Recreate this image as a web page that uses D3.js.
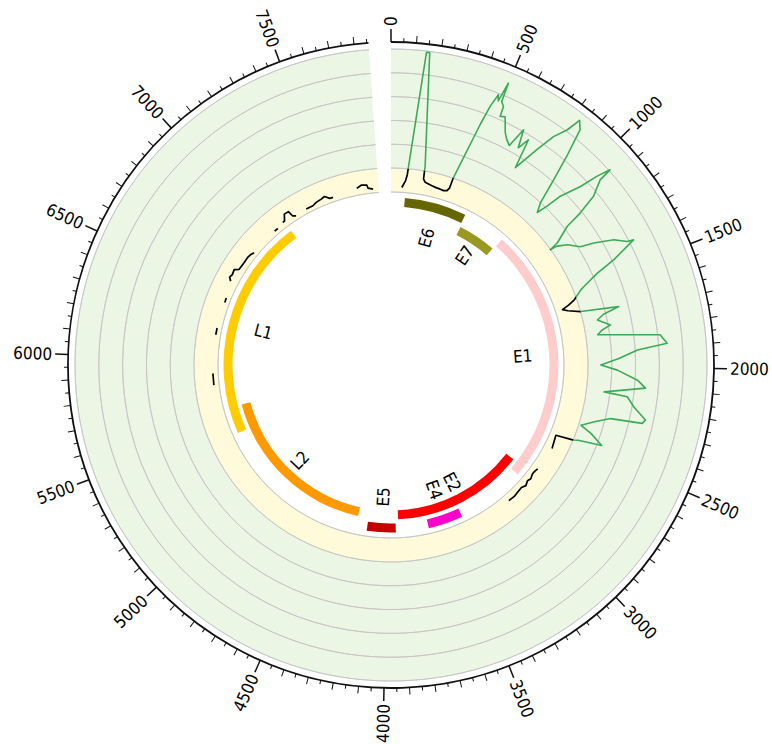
<!DOCTYPE html>
<html><head><meta charset="utf-8">
<script src="https://cdn.jsdelivr.net/npm/d3@7"></script>
<style>body{margin:0;background:#fff;} svg{display:block;}</style>
</head><body>
<svg id="chart" width="772" height="744"></svg>
<script>
// ---------------- data ----------------
const genomeLength = 7857;
const tickValues = [0,500,1000,1500,2000,2500,3000,3500,4000,4500,5000,5500,6000,6500,7000,7500];
const tickLabels = ["0","500","1000","1500","2000","2500","3000","3500","4000","4500","5000","5500","6000","6500","7000","7500"];

const geneNames  = ["E6","E7","E1","E2","E4","E5","L2","L1"];
const geneStart  = [105, 590, 914, 2817, 3418, 3936, 4244, 5430];
const geneEnd    = [581, 907, 2887, 3914, 3684, 4157, 5632, 7136];
const geneColors = ["#666600","#999922","#ffcccc","#ff0000","#ff00cc","#c40000","#ff9900","#ffcc00"];
const geneTrack  = [0,1,0,1,0,0,1,0];

// coverage line (position, level); null = gap
const covPos = [
 77,100,108,111,143,156,215,219,226,234,255,284,310,345,370,393,404,406,409,449,463,478,488,499,503,519,523,545,578,600,625,649,670,693,711,753,782,813,831,839,856,885,911,941,967,982,995,1031,1048,1066,1070,1108,1131,1143,1185,1194,1200,1230,1280,1302,1339,1377,1384,1428,1457,1497,1510,1554,1575,1591,1610,1639,1669,1690,1715,1758,1780,1803,1845,1887,1909,1950,1986,2015,2064,2101,2145,2155,2203,2256,2275,2289,2330,2375,2403,2448,2470,2481,2496,2591,
 null,
 2765,2790,2816,2850,2876,2909,2940,2983,3020,3068,
 null, 5816,5899, null, 6175,6224, null, 6414,6447,
 null, 6568,6590,6614,6650,6670,6730,6771,6804,6828,
 null, 7040,7070,
 null, 7124,7140,7167,7200,7208,7229,
 null, 7316,7369,7400,7442,7470,7500,7524,
 null, 7703,7740,7776,7782,7817
];
const covVal = [
 0.2,0.5,0.75,1.05,5.95,5.95,1.2,0.66,0.6,0.54,0.5,0.45,0.42,0.4,0.38,0.42,0.55,0.96,1.1,3.5,4.36,4.94,4.7,5.55,4.73,4.57,4.13,4.2,3.6,3.37,3.2,4.07,3.3,3.8,2.52,3.65,4.5,5.06,5.7,5.6,5.4,4.19,3.09,2.0,1.6,2.08,2.77,3.66,4.45,5.05,4.46,3.8,2.9,2.15,1.4,1.0,1.3,1.7,2.1,2.67,3.46,3.92,4.19,3.08,2.2,1.49,1.3,0.9,0.6,0.3,0.5,1.0,2.6,1.9,1.6,2.1,1.7,1.5,4.1,4.36,3.1,2.3,1.54,2.24,3.1,3.46,1.75,2.74,3.08,3.66,3.56,2.22,1.6,1.1,1.6,2.2,1.2,0.98,0.26,0.35,
 null,
 0.28,0.24,0.23,0.3,0.25,0.33,0.25,0.27,0.3,0.28,
 null, 0.22,0.22, null, 0.2,0.2, null, 0.19,0.2,
 null, 0.33,0.45,0.4,0.44,0.27,0.25,0.26,0.23,0.17,
 null, 0.18,0.18,
 null, 0.25,0.25,0.49,0.48,0.23,0.16,
 null, 0.19,0.18,0.25,0.29,0.34,0.19,0.18,
 null, 0.29,0.39,0.36,0.22,0.16
];

// ---------------- layout ----------------
const cx = 391, cy = 365;
const R_AXIS = 323;
const FONT = "'DejaVu Sans Condensed','DejaVu Sans',sans-serif";
const svg = d3.select("#chart");
const g = svg.append("g").attr("transform", `translate(${cx},${cy})`);

const angle = d3.scaleLinear().domain([0, genomeLength]).range([0, 356 * Math.PI / 180]);
const rVal = d3.scaleLinear().domain([0, 1, 6]).range([173, 197, 316]);
const endA = angle(genomeLength);
const deg = p => angle(p) * 180 / Math.PI;

const arc = d3.arc();
// bands
g.append("path").attr("d", arc({innerRadius:197, outerRadius:316, startAngle:0, endAngle:endA}))
  .attr("fill", "#ebf6e4");
g.append("path").attr("d", arc({innerRadius:173, outerRadius:197, startAngle:0, endAngle:endA}))
  .attr("fill", "#fefada");
// grid circles
const gridR = [173, 197, 220.8, 244.6, 268.4, 292.2, 316];
g.selectAll("path.grid").data(gridR).join("path").attr("class","grid")
  .attr("d", r => arc({innerRadius:r, outerRadius:r, startAngle:0, endAngle:endA}))
  .attr("fill","none").attr("stroke","#c4c4c4").attr("stroke-width",0.8);

// genes
const trackR = [[158.5,167.5],[145.5,154.5]];
const genes = geneNames.map((n,i)=>({name:n, s:geneStart[i], e:geneEnd[i], c:geneColors[i], t:geneTrack[i]}));
g.selectAll("path.gene").data(genes).join("path").attr("class","gene")
  .attr("d", d => arc({innerRadius:trackR[d.t][0], outerRadius:trackR[d.t][1], startAngle:angle(d.s), endAngle:angle(d.e)}))
  .attr("fill", d => d.c);

const labelR = 132;
g.selectAll("text.gl").data(genes.map(d=>({name:d.name, pos:(d.s+d.e)/2}))).join("text").attr("class","gl")
  .attr("transform", d => {
    const a = deg(d.pos);
    const rot = a < 180 ? a - 90 : a - 270;
    const x = labelR * Math.sin(angle(d.pos)), y = -labelR * Math.cos(angle(d.pos));
    return `translate(${x},${y}) rotate(${rot})`;
  })
  .attr("text-anchor","middle").attr("dominant-baseline","central")
  .attr("font-family", FONT).attr("font-size", 17).attr("fill","#000")
  .text(d=>d.name);

// coverage line
const defs = svg.append("defs");
defs.append("clipPath").attr("id","clipLow").append("circle").attr("r",197);
defs.append("clipPath").attr("id","clipHigh").append("path")
  .attr("d", arc({innerRadius:197, outerRadius:420, startAngle:0, endAngle:2*Math.PI}));
const pts = covPos.map((p,i)=>({pos:p, val:covVal[i]}));
const line = d3.lineRadial().defined(d => d.pos != null && d.val != null)
  .angle(d => angle(d.pos)).radius(d => rVal(d.val));
g.append("path").attr("d", line(pts)).attr("fill","none").attr("stroke","#3daa57")
  .attr("stroke-width",1.6).attr("stroke-linejoin","round").attr("clip-path","url(#clipHigh)");
g.append("path").attr("d", line(pts)).attr("fill","none").attr("stroke","#000")
  .attr("stroke-width",1.7).attr("stroke-linejoin","round").attr("clip-path","url(#clipLow)");

// axis
g.append("path").attr("d", arc({innerRadius:R_AXIS, outerRadius:R_AXIS, startAngle:0, endAngle:endA}))
  .attr("fill","none").attr("stroke","#111").attr("stroke-width",1.8);
const minor = d3.range(0, genomeLength + 1, 50);
g.selectAll("line.tk").data(minor).join("line").attr("class","tk")
  .attr("transform", d => `rotate(${deg(d) - 90})`)
  .attr("x1", R_AXIS).attr("x2", d => R_AXIS + (d % 500 === 0 ? 13 : d % 100 === 0 ? 7 : 4))
  .attr("y1",0).attr("y2",0)
  .attr("stroke","#111").attr("stroke-width", d => d % 500 === 0 ? 1.5 : 1);

g.selectAll("text.tl").data(tickValues.map((v,i)=>({pos:v, label:tickLabels[i]}))).join("text").attr("class","tl")
  .attr("transform", d => {
    const a = deg(d.pos);
    if (a < 180) return `rotate(${a-90}) translate(339,0)`;
    return `rotate(${a-90}) translate(339,0) rotate(180)`;
  })
  .attr("text-anchor", d => deg(d.pos) < 180 ? "start" : "end")
  .attr("dominant-baseline","central")
  .attr("font-family", FONT).attr("font-size", 17).attr("fill","#000")
  .text(d=>d.label);
</script>
</body></html>
